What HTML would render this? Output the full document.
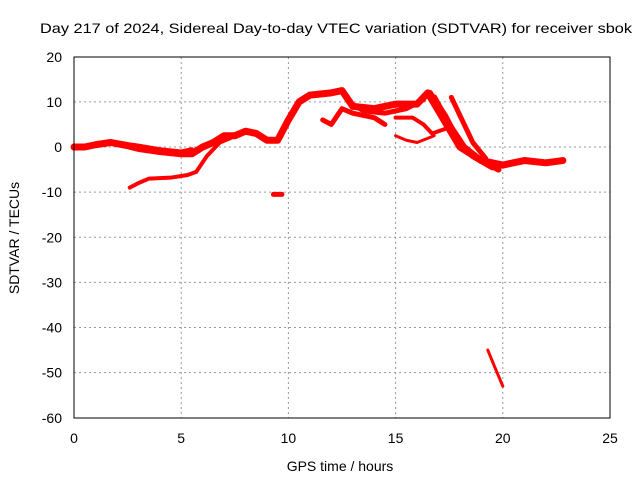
<!DOCTYPE html>
<html><head><meta charset="utf-8"><style>
html,body{margin:0;padding:0;background:#fff;}
svg{display:block;font-family:"Liberation Sans",sans-serif;}
</style></head><body>
<svg id="chart" width="640" height="480">
<text x="336" y="33" font-size="14" text-anchor="middle" textLength="592" lengthAdjust="spacingAndGlyphs">Day 217 of 2024, Sidereal Day-to-day VTEC variation (SDTVAR) for receiver sbok</text>
<text x="340" y="471" font-size="14" text-anchor="middle">GPS time / hours</text>
<text transform="translate(19,238) rotate(-90)" font-size="14" text-anchor="middle">SDTVAR / TECUs</text>
<g id="grid"></g><g id="marks"></g>
<rect x="74" y="57" width="536" height="361" fill="none" stroke="#000" stroke-width="1"/>
</svg>
<script>
const xTicks=[0,5,10,15,20,25];
const yTicks=[20,10,0,-10,-20,-30,-40,-50,-60];
const mainTrack=[[0,0],[0.5,0],[1,0.5],[1.7,1],[2.5,0.3],[3,-0.3],[4,-1],[5,-1.5],[5.5,-1.5],[6,0],[6.5,1],[7,2.5],[7.5,2.5],[8,3.5],[8.5,3],[9,1.5],[9.5,1.5],[10,6],[10.5,10],[11,11.5],[12,12],[12.5,12.5],[13,9],[14,8.5],[15,9.5],[16,9.5],[16.5,12],[17,8],[17.5,4],[18,0],[19,-3],[20,-4],[21,-3],[22,-3.5],[22.8,-3]];
const upperBand=[[2,1],[3,0.3],[4,-0.5],[5,-1],[5.5,-0.5]];
const lowerTrack=[[2.6,-9],[3,-8],[3.5,-7],[4.5,-6.8],[5.3,-6.2],[5.7,-5.5],[6.2,-2],[6.8,1],[7.3,2]];
const branchA=[[11.6,6],[12,5],[12.5,8.5],[13,7.5],[14,6.5],[14.5,5]];
const branchE=[[12.8,10],[13.5,8],[14.5,7.5],[15.5,8.5],[16.3,10.5]];
const branchB=[[15,6.5],[15.8,6.5],[16.3,5],[16.7,3],[17.3,4]];
const branchC=[[17.6,11],[18,7],[18.6,1],[19.2,-2.5]];
const branchF=[[16.6,12],[17.3,7],[17.9,1.5],[18.6,-2],[19.5,-4.5]];
const branchG=[[16.8,11],[17.5,5],[18.2,0],[19,-3],[19.8,-5]];
const branchD=[[15,2.5],[15.5,1.5],[16,1],[16.8,2.5]];
const blob=[[9.3,-10.5],[9.7,-10.5]];
const dropTrack=[[19.3,-45],[19.6,-48.5],[20,-53]];
const series=[[mainTrack,7,'main-track'],[upperBand,4,'upper-band'],[lowerTrack,4,'lower-track'],[branchA,5,'branch-a'],[branchE,5,'branch-e'],[branchB,4,'branch-b'],[branchC,5,'branch-c'],[branchF,6,'branch-f'],[branchG,6,'branch-g'],[branchD,3,'branch-d'],[blob,5,'outlier-blob'],[dropTrack,3,'drop-track']];
const X=h=>74+h*536/25, Y=v=>147-v*361/80;
const NS='http://www.w3.org/2000/svg';
const g=document.getElementById('grid'), m=document.getElementById('marks'), svg=document.getElementById('chart');
xTicks.forEach(t=>{
  if(t>0&&t<25){const l=document.createElementNS(NS,'line');l.setAttribute('x1',X(t));l.setAttribute('x2',X(t));l.setAttribute('y1',57);l.setAttribute('y2',418);l.setAttribute('stroke','#999');l.setAttribute('stroke-dasharray','2,3');
  
  g.appendChild(l);}
  const tx=document.createElementNS(NS,'text');tx.setAttribute('x',X(t));tx.setAttribute('y',443);tx.setAttribute('font-size','14');tx.setAttribute('text-anchor','middle');tx.textContent=t;
  
  svg.appendChild(tx);
});
yTicks.forEach(t=>{
  if(t<20&&t>-60){const l=document.createElementNS(NS,'line');l.setAttribute('x1',74);l.setAttribute('x2',610);l.setAttribute('y1',Y(t));l.setAttribute('y2',Y(t));l.setAttribute('stroke','#999');l.setAttribute('stroke-dasharray','2,3');
  
  g.appendChild(l);}
  const tx=document.createElementNS(NS,'text');tx.setAttribute('x',62);tx.setAttribute('y',Y(t)+5);tx.setAttribute('font-size','14');tx.setAttribute('text-anchor','end');tx.textContent=t;
  
  svg.appendChild(tx);
});
series.forEach(([pts,w,name])=>{
  const p=document.createElementNS(NS,'polyline');
  p.setAttribute('points',pts.map(d=>X(d[0])+','+Y(d[1])).join(' '));
  p.setAttribute('fill','none');p.setAttribute('stroke','#f00');p.setAttribute('stroke-width',w);p.setAttribute('stroke-linejoin','round');p.setAttribute('stroke-linecap','round');
  
  
  m.appendChild(p);
});
</script>
</body></html>
